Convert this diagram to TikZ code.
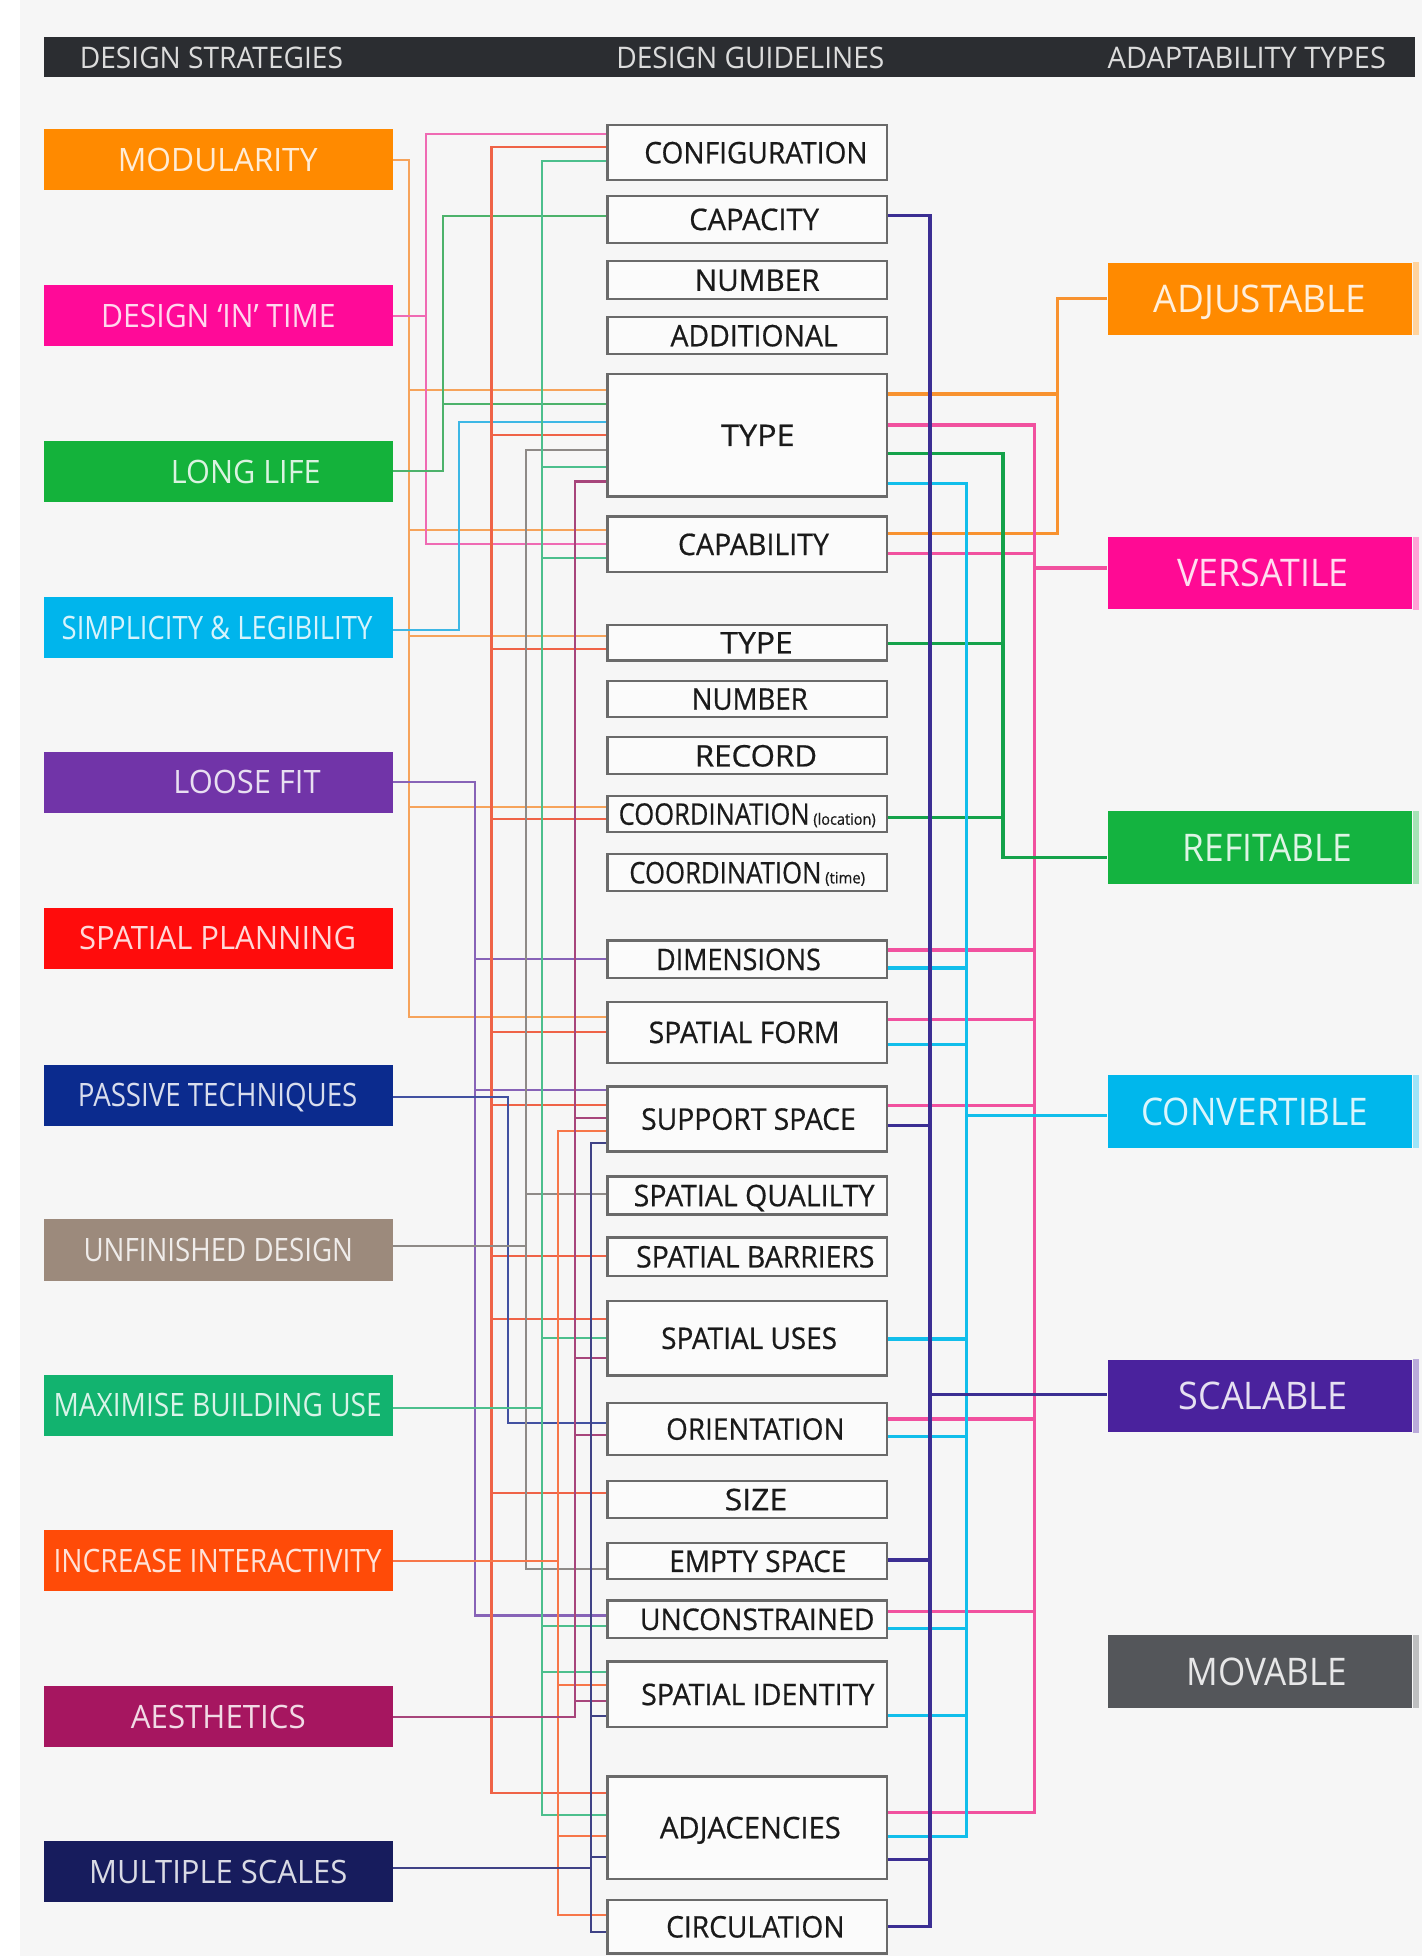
\documentclass[tikz,border=0pt]{standalone}
\usepackage{fontspec}
\setmainfont{Open Sans}
\newfontfamily\gfont[FakeBold=0.6]{Open Sans}
\usepackage{graphicx}
\newlength\du
\setlength\du{0.6pt}
% squeeze a text horizontally to a given width (in drawing units)
\newcommand\tw[2]{\resizebox{#1\du}{\height}{#2}}

\definecolor{bg}{HTML}{F6F6F6}
\definecolor{hdr}{HTML}{2B2D31}
\definecolor{hdrtext}{HTML}{DCDCDC}
\definecolor{boxline}{HTML}{6A6A6A}
\definecolor{boxfill}{HTML}{FBFBFB}
\definecolor{gtext}{HTML}{1A1A1A}
% strategy colours
\definecolor{cMod}{HTML}{FF8A00}
\definecolor{cDit}{HTML}{FF0A98}
\definecolor{cLL}{HTML}{14B23B}
\definecolor{cSL}{HTML}{00B5EC}
\definecolor{cLF}{HTML}{7134A8}
\definecolor{cSP}{HTML}{FF0C0C}
\definecolor{cPT}{HTML}{0B2B8E}
\definecolor{cUD}{HTML}{9C8A7C}
\definecolor{cMBU}{HTML}{12B36F}
\definecolor{cII}{HTML}{FF4B08}
\definecolor{cAE}{HTML}{A61660}
\definecolor{cMS}{HTML}{171C5D}
% adaptability colours
\definecolor{cAdj}{HTML}{FF8A00}
\definecolor{cVer}{HTML}{FF0A94}
\definecolor{cRef}{HTML}{14B340}
\definecolor{cCon}{HTML}{00B7EC}
\definecolor{cSca}{HTML}{4A229D}
\definecolor{cMov}{HTML}{54565A}
% connector colours, left side
\definecolor{lMod}{HTML}{F6A35B}
\definecolor{lDit}{HTML}{EF6AB3}
\definecolor{lLL}{HTML}{4DB26B}
\definecolor{lSL}{HTML}{3DB7E5}
\definecolor{lLF}{HTML}{8763B7}
\definecolor{lSP}{HTML}{EF6347}
\definecolor{lPT}{HTML}{4251A1}
\definecolor{lUD}{HTML}{8E8A87}
\definecolor{lMBU}{HTML}{4CBF8D}
\definecolor{lII}{HTML}{F77649}
\definecolor{lAE}{HTML}{A7457B}
\definecolor{lMS}{HTML}{3F4286}
% connector colours, right side
\definecolor{rAdj}{HTML}{F8922F}
\definecolor{rVer}{HTML}{F1519F}
\definecolor{rRef}{HTML}{14A24A}
\definecolor{rCon}{HTML}{12BEEB}
\definecolor{rSca}{HTML}{3B2E93}

\tikzset{
  sbox/.style={fill=#1, draw=none, minimum width=280\du, minimum height=49\du, inner sep=0pt},
  stxt/.style={text=#1!16!white, font=\fontsize{15.5}{16}\selectfont, inner sep=0pt, text depth=0pt},
  abox/.style={fill=#1, draw=none, minimum width=244\du, minimum height=58\du, inner sep=0pt},
  atxt/.style={text=#1!14!white, font=\fontsize{18.3}{19}\selectfont, inner sep=0pt, text depth=0pt},
  gbox/.style={draw=boxline, fill=boxfill, line width=1.1pt, minimum width=224\du, inner sep=0pt},
  gtxt/.style={text=gtext, font=\gfont\fontsize{14.3}{15}\selectfont, inner sep=0pt, text depth=0pt},
  htxt/.style={text=hdrtext, font=\fontsize{14.3}{15}\selectfont, inner sep=0pt, text depth=0pt},
  ln/.style={draw=#1, line width=1pt},
  rn/.style={draw=#1, line width=1.55pt},
}

\newcommand\guide[6]{\node[gbox, minimum height=#3\du] (#1) at (599,#2) {};
  \node[gtxt] (#1T) at (#4,#2) {\tw{#5}{#6}};}
\newcommand\strat[6]{\node[sbox=#6] (#1) at (175,#2) {};
  \node[stxt=#6] (#1T) at (#3,#2) {\tw{#4}{#5}};}
\newcommand\adapt[6]{\node[abox=#6] (#1) at (1010,#2) {};
  \node[atxt=#6] (#1T) at (#3,#2) {\tw{#4}{#5}};
  \fill[#6!38!white] (#1.north east) rectangle ([xshift=5\du]#1.south east);}
% branch from a bus to a guideline box (left) or from a box to a bus (right)
\newcommand\lb[4]{\draw[ln=#1] (#2 |- 0,#3) -- (#4.west |- 0,#3);}
\newcommand\rb[4]{\draw[rn=#1] (#4.east |- 0,#3) -- (#2 |- 0,#3);}

\begin{document}
\begin{tikzpicture}[x=0.6pt, y=-0.6pt]
\useasboundingbox (0,0) rectangle (1140,1568);
\fill[bg] (0,0) rectangle (1140,1568);
\fill[white] (0,0) rectangle (16,1568);

% title bar
\node[fill=hdr, minimum width=1099\du, minimum height=32\du, inner sep=0pt] (hdr) at (584.5,46) {};
\node[htxt] (hdrS) at (169.5,46) {\tw{211}{DESIGN STRATEGIES}};
\node[htxt] (hdrG) at (601.5,46) {\tw{215}{DESIGN GUIDELINES}};
\node[htxt] (hdrA) at (999.5,46) {\tw{223}{ADAPTABILITY TYPES}};

% design strategies
\strat{sMod}{128}{174.5}{160}{MODULARITY}{cMod}
\strat{sDit}{253}{175}{188}{DESIGN ‘IN’ TIME}{cDit}
\strat{sLL}{378}{197}{120}{LONG LIFE}{cLL}
\strat{sSL}{503}{174}{249}{SIMPLICITY \& LEGIBILITY}{cSL}
\strat{sLF}{627}{198}{118}{LOOSE FIT}{cLF}
\strat{sSP}{752}{174.5}{222}{SPATIAL PLANNING}{cSP}
\strat{sPT}{878}{174.5}{224}{PASSIVE TECHNIQUES}{cPT}
\strat{sUD}{1002}{175}{216}{UNFINISHED DESIGN}{cUD}
\strat{sMBU}{1126.5}{174.5}{263}{MAXIMISE BUILDING USE}{cMBU}
\strat{sII}{1251}{174.5}{263}{INCREASE INTERACTIVITY}{cII}
\strat{sAE}{1376}{175}{140}{AESTHETICS}{cAE}
\strat{sMS}{1500.5}{175}{207}{MULTIPLE SCALES}{cMS}

% design guidelines
\guide{gConf}{122.3}{44.5}{606}{179}{CONFIGURATION}
\guide{gCap}{175.8}{37.6}{604.5}{104}{CAPACITY}
\guide{gNum}{224.6}{30.6}{607}{100}{NUMBER}
\guide{gAdd}{269}{30}{604.5}{134}{ADDITIONAL}
\guide{gTypeA}{349}{98}{607.5}{59}{TYPE}
\guide{gCapab}{436.3}{44.5}{604}{121}{CAPABILITY}
\guide{gTypeB}{515.3}{28.5}{606.5}{58}{TYPE}
\guide{gNumB}{560.4}{29.2}{601}{93}{NUMBER}
\guide{gRec}{605.8}{29.6}{606}{98}{RECORD}
\node[gbox, minimum height=29\du] (gCoordL) at (599,652.5) {};
\node[gtxt] (gCoordLT) at (599,652.5) {\tw{153}{COORDINATION}\hspace{3\du}\tw{50}{\fontsize{7.5}{8}\selectfont(location)}};
\node[gbox, minimum height=30\du] (gCoordT) at (599,699.5) {};
\node[gtxt] (gCoordTT) at (599,699.5) {\tw{154}{COORDINATION}\hspace{3\du}\tw{32}{\fontsize{7.5}{8}\selectfont(time)}};
\guide{gDim}{769}{30}{592}{132}{DIMENSIONS}
\guide{gForm}{827.5}{49}{596.5}{153}{SPATIAL FORM}
\guide{gSupp}{897}{52}{600}{172}{SUPPORT SPACE}
\guide{gQual}{958.3}{30.5}{604.5}{193}{SPATIAL QUALILTY}
\guide{gBarr}{1007.4}{30.8}{605.5}{191}{SPATIAL BARRIERS}
\guide{gUses}{1072.7}{60}{600.5}{141}{SPATIAL USES}
\guide{gOrient}{1145.5}{42}{605.5}{143}{ORIENTATION}
\guide{gSize}{1202}{29.2}{606}{50}{SIZE}
\guide{gEmpty}{1251.5}{29}{607.5}{142}{EMPTY SPACE}
\guide{gUncon}{1298}{30}{607}{188}{UNCONSTRAINED}
\guide{gIdent}{1358.2}{52.4}{607.5}{187}{SPATIAL IDENTITY}
\guide{gAdj}{1465}{82}{601.5}{145}{ADJACENCIES}
\guide{gCirc}{1544.5}{43}{605.5}{143}{CIRCULATION}

% adaptability types
\adapt{aAdj}{239.5}{1010}{170}{ADJUSTABLE}{cAdj}
\adapt{aVer}{459.5}{1012.5}{137}{VERSATILE}{cVer}
\adapt{aRef}{679.5}{1016}{136}{REFITABLE}{cRef}
\adapt{aCon}{891}{1006}{182}{CONVERTIBLE}{cCon}
\adapt{aSca}{1119}{1012.5}{135}{SCALABLE}{cSca}
\adapt{aMov}{1340}{1015.5}{129}{MOVABLE}{cMov}

% vertical bus positions
\coordinate (bMod) at (328,0);
\coordinate (bDit) at (341.5,0);
\coordinate (bLL) at (355,0);
\coordinate (bSL) at (368,0);
\coordinate (bLF) at (381,0);
\coordinate (bSP) at (394,0);
\coordinate (bPT) at (407.5,0);
\coordinate (bUD) at (421.5,0);
\coordinate (bMBU) at (434.5,0);
\coordinate (bII) at (447,0);
\coordinate (bAE) at (461,0);
\coordinate (bMS) at (474,0);
\coordinate (bSca) at (745.5,0);
\coordinate (bCon) at (775,0);
\coordinate (bRef) at (804,0);
\coordinate (bVer) at (829,0);
\coordinate (bAdj) at (848,0);

% ---- strategies to guidelines ----
% modularity
\draw[ln=lMod] (sMod.east) -- (bMod |- sMod.east) -- (bMod |- 0,815) -- (gForm.west |- 0,815);
\lb{lMod}{bMod}{312.7}{gTypeA}
\lb{lMod}{bMod}{424.7}{gCapab}
\lb{lMod}{bMod}{510}{gTypeB}
\lb{lMod}{bMod}{647.2}{gCoordL}
% design 'in' time
\draw[ln=lDit] (gConf.west |- 0,107.5) -- (bDit |- 0,107.5) -- (bDit |- 0,436.2) -- (gCapab.west |- 0,436.2);
\draw[ln=lDit] (sDit.east) -- (bDit |- sDit.east);
% long life
\draw[ln=lLL] (gCap.west |- 0,172.8) -- (bLL |- 0,172.8) -- (bLL |- 0,377.5) -- (sLL.east |- 0,377.5);
\lb{lLL}{bLL}{323.9}{gTypeA}
% simplicity & legibility
\draw[ln=lSL] (gTypeA.west |- 0,338) -- (bSL |- 0,338) -- (bSL |- 0,505) -- (sSL.east |- 0,505);
% loose fit
\draw[ln=lLF] (sLF.east) -- (bLF |- sLF.east) -- (bLF |- 0,1295) -- (gUncon.west |- 0,1295);
\lb{lLF}{bLF}{768.7}{gDim}
\lb{lLF}{bLF}{874}{gSupp}
% spatial planning
\draw[ln=lSP] (gConf.west |- 0,118) -- (bSP |- 0,118) -- (bSP |- 0,1437.5) -- (gAdj.west |- 0,1437.5);
\lb{lSP}{bSP}{348.7}{gTypeA}
\lb{lSP}{bSP}{520}{gTypeB}
\lb{lSP}{bSP}{656.5}{gCoordL}
\lb{lSP}{bSP}{827}{gForm}
\lb{lSP}{bSP}{885.6}{gSupp}
\lb{lSP}{bSP}{1007}{gBarr}
\lb{lSP}{bSP}{1057.3}{gUses}
\lb{lSP}{bSP}{1196.7}{gSize}
% passive techniques
\draw[ln=lPT] (sPT.east |- 0,879.5) -- (bPT |- 0,879.5) -- (bPT |- 0,1141) -- (gOrient.west |- 0,1141);
% unfinished design
\draw[ln=lUD] (gTypeA.west |- 0,360.7) -- (bUD |- 0,360.7) -- (bUD |- 0,1258) -- (gEmpty.west |- 0,1258);
\lb{lUD}{bUD}{957.5}{gQual}
\draw[ln=lUD] (sUD.east |- 0,998.5) -- (bUD |- 0,998.5);
% maximise building use
\draw[ln=lMBU] (gConf.west |- 0,128.8) -- (bMBU |- 0,128.8) -- (bMBU |- 0,1454.6) -- (gAdj.west |- 0,1454.6);
\lb{lMBU}{bMBU}{374}{gTypeA}
\lb{lMBU}{bMBU}{447.5}{gCapab}
\lb{lMBU}{bMBU}{1072.8}{gUses}
\lb{lMBU}{bMBU}{1303.3}{gUncon}
\lb{lMBU}{bMBU}{1340.5}{gIdent}
\draw[ln=lMBU] (sMBU.east |- 0,1128.8) -- (bMBU |- 0,1128.8);
% increase interactivity
\draw[ln=lII] (gSupp.west |- 0,906.9) -- (bII |- 0,906.9) -- (bII |- 0,1535) -- (gCirc.west |- 0,1535);
\lb{lII}{bII}{1350.5}{gIdent}
\lb{lII}{bII}{1471.5}{gAdj}
\draw[ln=lII] (sII.east) -- (bII |- sII.east);
% aesthetics
\draw[ln=lAE] (gTypeA.west |- 0,386) -- (bAE |- 0,386) -- (bAE |- 0,1376.5) -- (sAE.east |- 0,1376.5);
\lb{lAE}{bAE}{896}{gSupp}
\lb{lAE}{bAE}{1088.6}{gUses}
\lb{lAE}{bAE}{1150.5}{gOrient}
\lb{lAE}{bAE}{1363.5}{gIdent}
% multiple scales
\draw[ln=lMS] (gSupp.west |- 0,916.5) -- (bMS |- 0,916.5) -- (bMS |- 0,1548.5) -- (gCirc.west |- 0,1548.5);
\lb{lMS}{bMS}{1375.7}{gIdent}
\lb{lMS}{bMS}{1488.3}{gAdj}
\draw[ln=lMS] (sMS.east |- 0,1497.5) -- (bMS |- 0,1497.5);

% ---- guidelines to adaptability types ----
% adjustable
\draw[rn=rAdj] (aAdj.west) -- (bAdj |- aAdj.west) -- (bAdj |- 0,427.7) -- (gCapab.east |- 0,427.7);
\rb{rAdj}{bAdj}{315.9}{gTypeA}
% versatile
\draw[rn=rVer] (gTypeA.east |- 0,340.7) -- (bVer |- 0,340.7) -- (bVer |- 0,1453) -- (gAdj.east |- 0,1453);
\rb{rVer}{bVer}{444}{gCapab}
\rb{rVer}{bVer}{761.5}{gDim}
\rb{rVer}{bVer}{817.5}{gForm}
\rb{rVer}{bVer}{886.5}{gSupp}
\rb{rVer}{bVer}{1137.5}{gOrient}
\rb{rVer}{bVer}{1292}{gUncon}
\draw[rn=rVer] (bVer |- 0,455.4) -- (aVer.west |- 0,455.4);
% refitable
\draw[rn=rRef] (gTypeA.east |- 0,363.5) -- (bRef |- 0,363.5) -- (bRef |- 0,687.7) -- (aRef.west |- 0,687.7);
\rb{rRef}{bRef}{515.8}{gTypeB}
\rb{rRef}{bRef}{655.5}{gCoordL}
% convertible
\draw[rn=rCon] (gTypeA.east |- 0,387.3) -- (bCon |- 0,387.3) -- (bCon |- 0,1472) -- (gAdj.east |- 0,1472);
\rb{rCon}{bCon}{776}{gDim}
\rb{rCon}{bCon}{837}{gForm}
\rb{rCon}{bCon}{1073.3}{gUses}
\rb{rCon}{bCon}{1151.5}{gOrient}
\rb{rCon}{bCon}{1305.5}{gUncon}
\rb{rCon}{bCon}{1375.5}{gIdent}
\draw[rn=rCon] (bCon |- 0,894) -- (aCon.west |- 0,894);
% scalable
\draw[rn=rSca] (gCap.east |- 0,172.8) -- (bSca |- 0,172.8) -- (bSca |- 0,1544.5) -- (gCirc.east |- 0,1544.5);
\rb{rSca}{bSca}{902.5}{gSupp}
\rb{rSca}{bSca}{1250.5}{gEmpty}
\rb{rSca}{bSca}{1490.8}{gAdj}
\draw[rn=rSca] (bSca |- 0,1117.8) -- (aSca.west |- 0,1117.8);
\end{tikzpicture}
\end{document}
